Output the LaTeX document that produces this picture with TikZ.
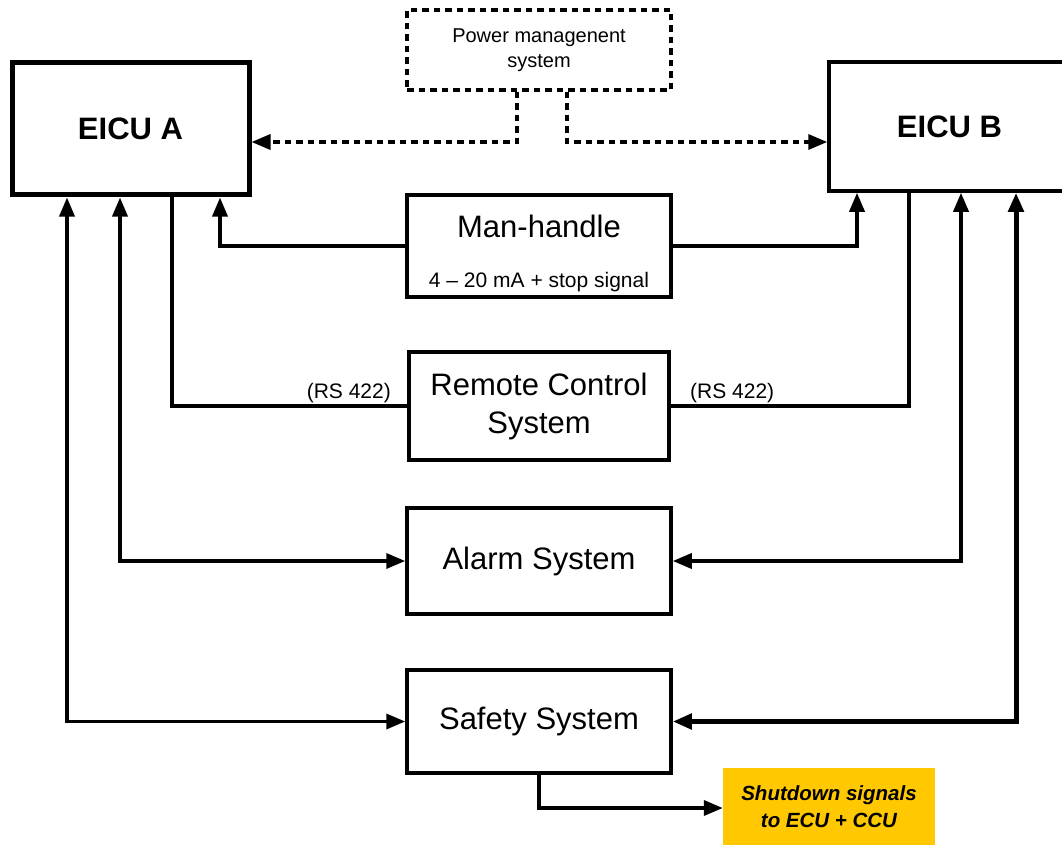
\documentclass[tikz,border=0pt]{standalone}
\usepackage{fontspec}
\setmainfont{Liberation Sans}
\usetikzlibrary{arrows.meta}
\definecolor{shutyellow}{HTML}{FFC800}
\tikzset{
  box/.style={draw, line width=3.5pt, rectangle, inner sep=0pt, align=center},
  bigtxt/.style={font=\fontsize{31}{38}\selectfont},
  smalltxt/.style={font=\fontsize{21}{25}\selectfont},
  conn/.style={line width=3.5pt, -{Triangle[length=19pt,width=15pt]}},
  biconn/.style={line width=3.5pt, {Triangle[length=19pt,width=15pt]}-{Triangle[length=19pt,width=15pt]}},
  plainconn/.style={line width=3.5pt},
  dotpat/.style={dash pattern=on 6.5pt off 5pt},
  dotconn/.style={line width=3.5pt, dotpat, -{Triangle[length=19pt,width=15pt]}},
}
\begin{document}
\begin{tikzpicture}[x=1pt,y=-1pt]
\useasboundingbox (0,0) rectangle (1062,845);
\begin{scope}
\clip (0,0) rectangle (1062,845);
% main boxes
\node[box, line width=5pt, minimum width=237pt, minimum height=132pt,
      font=\fontsize{31}{38}\selectfont\bfseries] (eicuA) at (130.5,129) {EICU A};
\node[box, minimum width=241pt, minimum height=129pt,
      font=\fontsize{31}{38}\selectfont\bfseries] (eicuB) at (949.5,126.5) {EICU B};
\node[box, line width=3.5pt, dotpat, minimum width=264pt, minimum height=80pt,
      font=\fontsize{20}{25}\selectfont] (pms) at (539,50) {Power managenent\\system};
\node[box, minimum width=264pt, minimum height=102pt] (mh) at (539,246) {};
\node[bigtxt] (mhtitle) at (539,226) {Man-handle};
\node[smalltxt] (mhsub) at (539,282) {4 -- 20 mA + stop signal};
\node[box, bigtxt, minimum width=260pt, minimum height=108pt] (rcs) at (539,406) {Remote Control\\System};
\node[box, bigtxt, minimum width=264pt, minimum height=106pt] (alarm) at (539,561) {Alarm System};
\node[box, bigtxt, minimum width=264pt, minimum height=103pt] (safety) at (539,721.5) {Safety System};
\node[rectangle, fill=shutyellow, minimum width=212pt, minimum height=77pt, align=center,
      font=\fontsize{20.5}{27}\selectfont\bfseries\itshape] (shut) at (829,806.5) {Shutdown signals\\to ECU + CCU};
% RS 422 labels
\node[smalltxt, anchor=east, inner sep=0pt] (rsA) at (391,393) {(RS 422)};
\node[smalltxt, anchor=west, inner sep=0pt] (rsB) at (690,393) {(RS 422)};
% dotted connections from power management
\draw[dotconn] ([xshift=-22pt]pms.south) |- ([yshift=-13pt]eicuA.east);
\draw[dotconn] ([xshift=28pt]pms.south) |- ([yshift=-15.5pt]eicuB.west);
% man-handle
\draw[conn] (mh.west) -| ([xshift=89.5pt]eicuA.south);
\draw[conn] (mh.east) -| ([xshift=-92.5pt]eicuB.south);
% remote control
\draw[plainconn] ([xshift=41.5pt]eicuA.south) |- (rcs.west);
\draw[plainconn] (rcs.east) -| ([xshift=-40.5pt]eicuB.south);
% alarm
\draw[biconn] ([xshift=-10.5pt]eicuA.south) |- (alarm.west);
\draw[biconn] ([xshift=11.5pt]eicuB.south) |- (alarm.east);
% safety
\draw[biconn] ([xshift=-63.5pt]eicuA.south) |- (safety.west);
\draw[biconn, line width=5pt] ([xshift=66.5pt]eicuB.south) |- (safety.east);
% shutdown
\draw[conn] (safety.south) |- ([yshift=-1.5pt]shut.west);
\end{scope}
\end{tikzpicture}
\end{document}
